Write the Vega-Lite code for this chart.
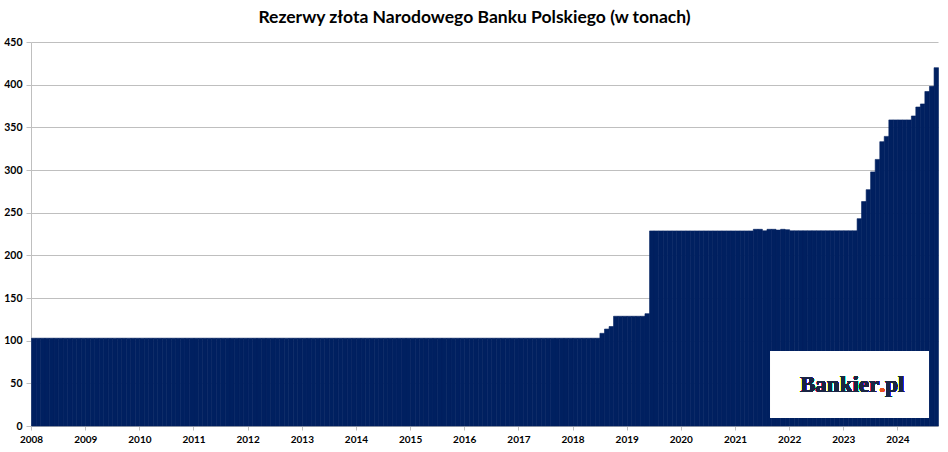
{
  "$schema": "https://vega.github.io/schema/vega-lite/v6.json",
  "autosize": {"type": "none"},
  "padding": {"left": 31, "top": 42, "right": 10, "bottom": 26},
  "width": 907,
  "height": 384,
  "background": "white",
  "title": {
    "text": "Rezerwy złota Narodowego Banku Polskiego (w tonach)",
    "font": "Lato",
    "fontSize": 17.5,
    "fontWeight": "bold",
    "color": "#000000",
    "anchor": "middle",
    "dx": -10,
    "offset": 11
  },
  "config": {
    "view": {"stroke": null},
    "axis": {"labelFont": "Lato", "labelFontWeight": "bold", "labelColor": "#000000", "domainColor": "#bfbfbf", "tickColor": "#bfbfbf", "gridColor": "#bfbfbf"}
  },
  "data": {
    "values": [
      {"d": "2008-01-01", "v": 102.9}, {"d": "2008-02-01", "v": 102.9}, {"d": "2008-03-01", "v": 102.9}, {"d": "2008-04-01", "v": 102.9}, {"d": "2008-05-01", "v": 102.9}, {"d": "2008-06-01", "v": 102.9}, {"d": "2008-07-01", "v": 102.9}, {"d": "2008-08-01", "v": 102.9}, {"d": "2008-09-01", "v": 102.9}, {"d": "2008-10-01", "v": 102.9}, {"d": "2008-11-01", "v": 102.9}, {"d": "2008-12-01", "v": 102.9},
      {"d": "2009-01-01", "v": 102.9}, {"d": "2009-02-01", "v": 102.9}, {"d": "2009-03-01", "v": 102.9}, {"d": "2009-04-01", "v": 102.9}, {"d": "2009-05-01", "v": 102.9}, {"d": "2009-06-01", "v": 102.9}, {"d": "2009-07-01", "v": 102.9}, {"d": "2009-08-01", "v": 102.9}, {"d": "2009-09-01", "v": 102.9}, {"d": "2009-10-01", "v": 102.9}, {"d": "2009-11-01", "v": 102.9}, {"d": "2009-12-01", "v": 102.9},
      {"d": "2010-01-01", "v": 102.9}, {"d": "2010-02-01", "v": 102.9}, {"d": "2010-03-01", "v": 102.9}, {"d": "2010-04-01", "v": 102.9}, {"d": "2010-05-01", "v": 102.9}, {"d": "2010-06-01", "v": 102.9}, {"d": "2010-07-01", "v": 102.9}, {"d": "2010-08-01", "v": 102.9}, {"d": "2010-09-01", "v": 102.9}, {"d": "2010-10-01", "v": 102.9}, {"d": "2010-11-01", "v": 102.9}, {"d": "2010-12-01", "v": 102.9},
      {"d": "2011-01-01", "v": 102.9}, {"d": "2011-02-01", "v": 102.9}, {"d": "2011-03-01", "v": 102.9}, {"d": "2011-04-01", "v": 102.9}, {"d": "2011-05-01", "v": 102.9}, {"d": "2011-06-01", "v": 102.9}, {"d": "2011-07-01", "v": 102.9}, {"d": "2011-08-01", "v": 102.9}, {"d": "2011-09-01", "v": 102.9}, {"d": "2011-10-01", "v": 102.9}, {"d": "2011-11-01", "v": 102.9}, {"d": "2011-12-01", "v": 102.9},
      {"d": "2012-01-01", "v": 102.9}, {"d": "2012-02-01", "v": 102.9}, {"d": "2012-03-01", "v": 102.9}, {"d": "2012-04-01", "v": 102.9}, {"d": "2012-05-01", "v": 102.9}, {"d": "2012-06-01", "v": 102.9}, {"d": "2012-07-01", "v": 102.9}, {"d": "2012-08-01", "v": 102.9}, {"d": "2012-09-01", "v": 102.9}, {"d": "2012-10-01", "v": 102.9}, {"d": "2012-11-01", "v": 102.9}, {"d": "2012-12-01", "v": 102.9},
      {"d": "2013-01-01", "v": 102.9}, {"d": "2013-02-01", "v": 102.9}, {"d": "2013-03-01", "v": 102.9}, {"d": "2013-04-01", "v": 102.9}, {"d": "2013-05-01", "v": 102.9}, {"d": "2013-06-01", "v": 102.9}, {"d": "2013-07-01", "v": 102.9}, {"d": "2013-08-01", "v": 102.9}, {"d": "2013-09-01", "v": 102.9}, {"d": "2013-10-01", "v": 102.9}, {"d": "2013-11-01", "v": 102.9}, {"d": "2013-12-01", "v": 102.9},
      {"d": "2014-01-01", "v": 102.9}, {"d": "2014-02-01", "v": 102.9}, {"d": "2014-03-01", "v": 102.9}, {"d": "2014-04-01", "v": 102.9}, {"d": "2014-05-01", "v": 102.9}, {"d": "2014-06-01", "v": 102.9}, {"d": "2014-07-01", "v": 102.9}, {"d": "2014-08-01", "v": 102.9}, {"d": "2014-09-01", "v": 102.9}, {"d": "2014-10-01", "v": 102.9}, {"d": "2014-11-01", "v": 102.9}, {"d": "2014-12-01", "v": 102.9},
      {"d": "2015-01-01", "v": 102.9}, {"d": "2015-02-01", "v": 102.9}, {"d": "2015-03-01", "v": 102.9}, {"d": "2015-04-01", "v": 102.9}, {"d": "2015-05-01", "v": 102.9}, {"d": "2015-06-01", "v": 102.9}, {"d": "2015-07-01", "v": 102.9}, {"d": "2015-08-01", "v": 102.9}, {"d": "2015-09-01", "v": 102.9}, {"d": "2015-10-01", "v": 102.9}, {"d": "2015-11-01", "v": 102.9}, {"d": "2015-12-01", "v": 102.9},
      {"d": "2016-01-01", "v": 102.9}, {"d": "2016-02-01", "v": 102.9}, {"d": "2016-03-01", "v": 102.9}, {"d": "2016-04-01", "v": 102.9}, {"d": "2016-05-01", "v": 102.9}, {"d": "2016-06-01", "v": 102.9}, {"d": "2016-07-01", "v": 102.9}, {"d": "2016-08-01", "v": 102.9}, {"d": "2016-09-01", "v": 102.9}, {"d": "2016-10-01", "v": 102.9}, {"d": "2016-11-01", "v": 102.9}, {"d": "2016-12-01", "v": 102.9},
      {"d": "2017-01-01", "v": 102.9}, {"d": "2017-02-01", "v": 102.9}, {"d": "2017-03-01", "v": 102.9}, {"d": "2017-04-01", "v": 102.9}, {"d": "2017-05-01", "v": 102.9}, {"d": "2017-06-01", "v": 102.9}, {"d": "2017-07-01", "v": 102.9}, {"d": "2017-08-01", "v": 102.9}, {"d": "2017-09-01", "v": 102.9}, {"d": "2017-10-01", "v": 102.9}, {"d": "2017-11-01", "v": 102.9}, {"d": "2017-12-01", "v": 102.9},
      {"d": "2018-01-01", "v": 102.9}, {"d": "2018-02-01", "v": 102.9}, {"d": "2018-03-01", "v": 102.9}, {"d": "2018-04-01", "v": 102.9}, {"d": "2018-05-01", "v": 102.9}, {"d": "2018-06-01", "v": 102.9}, {"d": "2018-07-01", "v": 108.6}, {"d": "2018-08-01", "v": 113.6}, {"d": "2018-09-01", "v": 116.6}, {"d": "2018-10-01", "v": 128.6}, {"d": "2018-11-01", "v": 128.6}, {"d": "2018-12-01", "v": 128.6},
      {"d": "2019-01-01", "v": 128.6}, {"d": "2019-02-01", "v": 128.6}, {"d": "2019-03-01", "v": 128.6}, {"d": "2019-04-01", "v": 128.6}, {"d": "2019-05-01", "v": 131.6}, {"d": "2019-06-01", "v": 228.6}, {"d": "2019-07-01", "v": 228.6}, {"d": "2019-08-01", "v": 228.6}, {"d": "2019-09-01", "v": 228.6}, {"d": "2019-10-01", "v": 228.6}, {"d": "2019-11-01", "v": 228.6}, {"d": "2019-12-01", "v": 228.6},
      {"d": "2020-01-01", "v": 228.6}, {"d": "2020-02-01", "v": 228.6}, {"d": "2020-03-01", "v": 228.6}, {"d": "2020-04-01", "v": 228.6}, {"d": "2020-05-01", "v": 228.6}, {"d": "2020-06-01", "v": 228.6}, {"d": "2020-07-01", "v": 228.6}, {"d": "2020-08-01", "v": 228.6}, {"d": "2020-09-01", "v": 228.6}, {"d": "2020-10-01", "v": 228.6}, {"d": "2020-11-01", "v": 228.6}, {"d": "2020-12-01", "v": 228.6},
      {"d": "2021-01-01", "v": 228.6}, {"d": "2021-02-01", "v": 228.6}, {"d": "2021-03-01", "v": 228.6}, {"d": "2021-04-01", "v": 228.6}, {"d": "2021-05-01", "v": 230.5}, {"d": "2021-06-01", "v": 230.5}, {"d": "2021-07-01", "v": 228.7}, {"d": "2021-08-01", "v": 230.5}, {"d": "2021-09-01", "v": 230.5}, {"d": "2021-10-01", "v": 229.6}, {"d": "2021-11-01", "v": 230.5}, {"d": "2021-12-01", "v": 230.0},
      {"d": "2022-01-01", "v": 228.7}, {"d": "2022-02-01", "v": 228.7}, {"d": "2022-03-01", "v": 228.7}, {"d": "2022-04-01", "v": 228.7}, {"d": "2022-05-01", "v": 228.7}, {"d": "2022-06-01", "v": 228.7}, {"d": "2022-07-01", "v": 228.7}, {"d": "2022-08-01", "v": 228.7}, {"d": "2022-09-01", "v": 228.7}, {"d": "2022-10-01", "v": 228.7}, {"d": "2022-11-01", "v": 228.7}, {"d": "2022-12-01", "v": 228.7},
      {"d": "2023-01-01", "v": 228.7}, {"d": "2023-02-01", "v": 228.7}, {"d": "2023-03-01", "v": 228.7}, {"d": "2023-04-01", "v": 243.0}, {"d": "2023-05-01", "v": 263.0}, {"d": "2023-06-01", "v": 277.0}, {"d": "2023-07-01", "v": 297.8}, {"d": "2023-08-01", "v": 312.4}, {"d": "2023-09-01", "v": 333.2}, {"d": "2023-10-01", "v": 339.4}, {"d": "2023-11-01", "v": 358.7}, {"d": "2023-12-01", "v": 358.7},
      {"d": "2024-01-01", "v": 358.7}, {"d": "2024-02-01", "v": 358.7}, {"d": "2024-03-01", "v": 358.7}, {"d": "2024-04-01", "v": 363.3}, {"d": "2024-05-01", "v": 373.8}, {"d": "2024-06-01", "v": 377.4}, {"d": "2024-07-01", "v": 392.0}, {"d": "2024-08-01", "v": 398.0}, {"d": "2024-09-01", "v": 419.9}
    ]
  },
  "encoding": {
    "x": {
      "field": "d",
      "timeUnit": "utcyearmonth",
      "type": "temporal",
      "title": null,
      "scale": {"type": "utc", "domain": [{"year": 2008, "month": 1, "date": 1, "utc": true}, {"year": 2024, "month": 10, "date": 1, "utc": true}], "nice": false},
      "axis": {"format": "%Y", "tickCount": {"interval": "year", "step": 1}, "labelFontSize": 10, "labelPadding": 4, "tickSize": 4, "grid": false, "labelFlush": false, "labelOverlap": false}
    },
    "y": {
      "field": "v",
      "type": "quantitative",
      "title": null,
      "scale": {"domain": [0, 450], "nice": false},
      "axis": {"values": [0, 50, 100, 150, 200, 250, 300, 350, 400, 450], "labelFontSize": 10.5, "labelPadding": 4, "tickSize": 5, "grid": true}
    }
  },
  "layer": [
    {"mark": {"type": "bar", "color": "#002060", "stroke": "#002060", "strokeWidth": 0.6, "binSpacing": 0}},
    {
      "mark": {"type": "rect", "color": "#ffffff"},
      "encoding": {
        "x": {"datum": {"year": 2021, "month": 8, "date": 30, "utc": true}, "type": "temporal"},
        "x2": {"datum": {"year": 2024, "month": 8, "date": 1, "utc": true}},
        "y": {"datum": 10, "type": "quantitative"},
        "y2": {"datum": 88}
      }
    },
    {
      "mark": {"type": "text", "text": "Bankier", "font": "Liberation Serif", "fontWeight": "bold", "fontSize": 23, "color": "#1a2544", "align": "right", "baseline": "alphabetic", "dx": -3},
      "encoding": {
        "x": {"datum": {"year": 2023, "month": 9, "date": 21, "utc": true}, "type": "temporal"},
        "y": {"datum": 40, "type": "quantitative"}
      }
    },
    {
      "mark": {"type": "text", "text": ".", "font": "Liberation Serif", "fontWeight": "bold", "fontSize": 23, "color": "#e8501e", "align": "center", "baseline": "alphabetic"},
      "encoding": {
        "x": {"datum": {"year": 2023, "month": 9, "date": 21, "utc": true}, "type": "temporal"},
        "y": {"datum": 40, "type": "quantitative"}
      }
    },
    {
      "mark": {"type": "text", "text": "pl", "font": "Liberation Serif", "fontWeight": "bold", "fontSize": 23, "color": "#1a2544", "align": "left", "baseline": "alphabetic", "dx": 3},
      "encoding": {
        "x": {"datum": {"year": 2023, "month": 9, "date": 21, "utc": true}, "type": "temporal"},
        "y": {"datum": 40, "type": "quantitative"}
      }
    }
  ]
}
